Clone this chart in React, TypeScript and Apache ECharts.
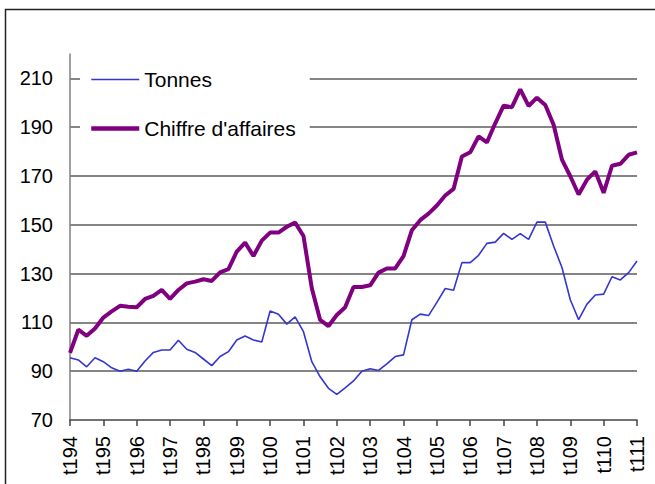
import React, { useEffect, useRef } from "react";
import * as echarts from "echarts";

const categories = [
  "t194","t294","t394","t494",
  "t195","t295","t395","t495",
  "t196","t296","t396","t496",
  "t197","t297","t397","t497",
  "t198","t298","t398","t498",
  "t199","t299","t399","t499",
  "t100","t200","t300","t400",
  "t101","t201","t301","t401",
  "t102","t202","t302","t402",
  "t103","t203","t303","t403",
  "t104","t204","t304","t404",
  "t105","t205","t305","t405",
  "t106","t206","t306","t406",
  "t107","t207","t307","t407",
  "t108","t208","t308","t408",
  "t109","t209","t309","t409",
  "t110","t210","t310","t410",
  "t111",
];

const tonnes = [
  95.5, 94.6, 91.8, 95.5, 93.9, 91.4, 90, 90.8, 90, 94.2, 97.7, 98.7,
  98.7, 102.7, 99, 97.7, 95, 92.3, 96, 98, 102.8, 104.4, 102.8, 102,
  114.7, 113.3, 109.3, 112.3, 106.2, 93.9, 87.7, 83, 80.5, 83.2, 86, 90,
  91, 90.3, 93, 96, 96.7, 111.1, 113.4, 112.8, 118.2, 123.9, 123.2, 134.5,
  134.5, 137.5, 142.4, 142.9, 146.5, 144, 146.4, 144, 151.1, 151.1, 141.3, 132.5,
  119.3, 111.1, 117.5, 121.2, 121.6, 128.7, 127.4, 130.4, 135.2,
];

const chiffreAffaires = [
  97.5, 107, 104.5, 107.5, 112, 114.5, 116.8, 116.4, 116.2, 119.6, 120.9, 123.3,
  119.6, 123.3, 126, 126.7, 127.7, 127, 130.5, 131.8, 139, 142.7, 137.2, 143.5,
  146.8, 146.8, 149.2, 150.9, 145.4, 124, 111, 108.5, 113, 116.2, 124.5, 124.5,
  125.2, 130.4, 132.1, 132.1, 137.2, 147.8, 151.9, 154.6, 157.9, 162, 164.7, 178,
  179.7, 186.2, 183.8, 191.6, 198.8, 198.2, 205.5, 198.7, 202.1, 199.1, 191, 176.7,
  169.9, 162.4, 168.5, 171.9, 163.1, 174.2, 175, 178.7, 179.7,
];

const seriesNames = ["Tonnes", "Chiffre d'affaires"];
const yMin = 70;
const yMax = 220;
const yInterval = 20;

const FONT = "'Liberation Sans', Arial, Helvetica, sans-serif";

export default function App() {
  const ref = useRef<HTMLDivElement>(null);

  useEffect(() => {
    if (!ref.current) return;
    const chart = echarts.init(ref.current, null, { renderer: "svg" });
    chart.setOption({
      animation: false,
      backgroundColor: "#ffffff",
      textStyle: { fontFamily: FONT },
      grid: { left: 70, right: 18, top: 54, bottom: 64, containLabel: false },
      graphic: [
        {
          type: "rect",
          silent: true,
          z: -10,
          shape: { x: 5.5, y: 9.5, width: 700, height: 600 },
          style: { fill: "none", stroke: "#222", lineWidth: 1.5 },
        },
      ],
      legend: {
        data: [
          { name: seriesNames[0], lineStyle: { width: 1.6 } },
          { name: seriesNames[1], lineStyle: { width: 4.5 } },
        ],
        orient: "vertical",
        left: 80,
        top: 59,
        padding: [10, 14, 10, 9],
        itemGap: 28,
        itemWidth: 48,
        itemHeight: 14,
        backgroundColor: "#ffffff",
        itemStyle: { opacity: 0 },
        z: 10,
        textStyle: {
          fontFamily: FONT,
          fontSize: 21,
          color: "#000",
          lineHeight: 20,
        },
      },
      xAxis: {
        type: "category",
        data: categories,
        boundaryGap: false,
        axisLine: { lineStyle: { color: "#444", width: 1.5 } },
        axisTick: {
          show: true,
          interval: 3,
          length: 6,
          lineStyle: { color: "#444", width: 1.5 },
        },
        axisLabel: {
          interval: 3,
          rotate: 90,
          margin: 16,
          fontFamily: FONT,
          fontSize: 20,
          color: "#000",
        },
        splitLine: { show: false },
      },
      yAxis: {
        type: "value",
        min: yMin,
        max: yMax,
        interval: yInterval,
        axisLine: { show: true, lineStyle: { color: "#808080", width: 1.5 } },
        axisTick: { show: false },
        axisLabel: {
          showMaxLabel: false,
          margin: 17,
          fontFamily: FONT,
          fontSize: 20,
          color: "#000",
        },
        splitLine: {
          show: true,
          showMinLine: false,
          showMaxLine: false,
          lineStyle: { color: "#858585", width: 2 },
        },
      },
      series: [
        {
          name: seriesNames[0],
          type: "line",
          data: tonnes,
          symbol: "none",
          showSymbol: false,
          color: "#3535D0",
          lineStyle: { color: "#3535D0", width: 1.6 },
          z: 3,
        },
        {
          name: seriesNames[1],
          type: "line",
          data: chiffreAffaires,
          symbol: "none",
          showSymbol: false,
          color: "#800080",
          lineStyle: { color: "#800080", width: 4 },
          z: 4,
        },
      ],
    });
    return () => chart.dispose();
  }, []);

  return (
    <div
      ref={ref}
      style={{ position: "fixed", left: 0, top: 0, width: 655, height: 484 }}
    />
  );
}
